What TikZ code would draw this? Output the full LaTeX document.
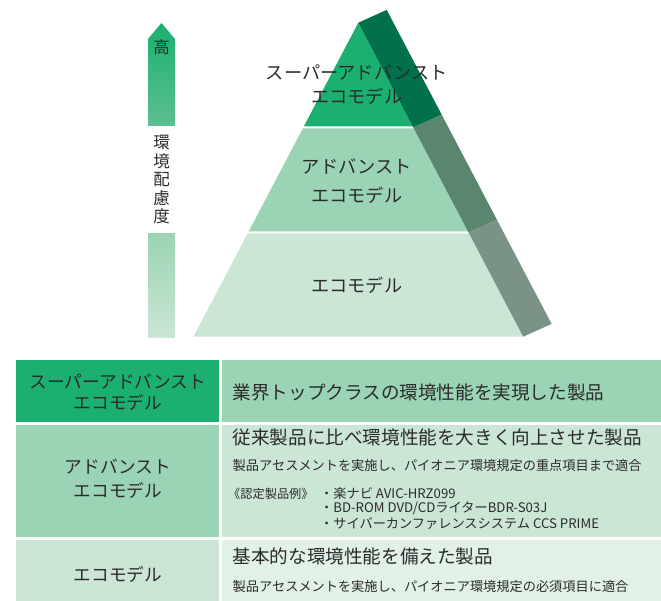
\documentclass[tikz,border=0pt]{standalone}
\usepackage{fontspec}
\setmainfont{Noto Sans CJK JP}
\definecolor{gDark}{HTML}{1BB06F}
\definecolor{gMid}{HTML}{9BD4B4}
\definecolor{gLight}{HTML}{CBE6D5}
\definecolor{gPale}{HTML}{E1F1E7}
\definecolor{bTop}{HTML}{00714A}
\definecolor{bMid}{HTML}{5A866F}
\definecolor{bBot}{HTML}{7A9386}
\definecolor{txt}{HTML}{2B2B2B}
\definecolor{arrBot}{HTML}{5CBF91}
\begin{document}
\begin{tikzpicture}[x=1pt,y=-1pt,
  base/.style={text=txt, inner sep=0pt},
  pyr/.style={base, font=\fontsize{18.2}{20}\selectfont},
  vch/.style={base, font=\fontsize{16.5}{18}\selectfont},
  lcol/.style={base, font=\fontsize{17.7}{20}\selectfont},
  big/.style={base, anchor=west, font=\fontsize{18.6}{20}\selectfont},
  small/.style={base, anchor=west, font=\fontsize{13.2}{15}\selectfont},
]
\useasboundingbox (0,0) rectangle (661,601);
% pyramid tiers
\fill[gDark] (358.3,22.7) -- (412.8,126.5) -- (303.8,126.5) -- cycle;
\fill[gMid] (302.8,128.5) -- (413.8,128.5) -- (467.9,231.5) -- (248.7,231.5) -- cycle;
\fill[gLight] (247.6,233.5) -- (469.0,233.5) -- (523.2,336.7) -- (193.4,336.7) -- cycle;
% side band
\fill[bTop] (358.3,22.7) -- (386.7,9.9) -- (441.7,114.7) -- (413.3,127.5) -- cycle;
\fill[bMid] (413.3,127.5) -- (441.7,114.7) -- (496.9,219.7) -- (468.5,232.5) -- cycle;
\fill[bBot] (468.5,232.5) -- (496.9,219.7) -- (551.6,323.9) -- (523.2,336.7) -- cycle;
% pyramid labels
\node[pyr] (p1a) at (356.7,72.7) {スーパーアドバンスト};
\node[pyr] (p1b) at (356.7,96.7) {エコモデル};
\node[pyr] (p2a) at (356.7,166.7) {アドバンスト};
\node[pyr] (p2b) at (356.7,195.7) {エコモデル};
\node[pyr] (p3) at (356.7,285) {エコモデル};
% level arrow
\shade[top color=gDark, bottom color=arrBot] (148,126) -- (148,39) -- (161.5,23) -- (175,39) -- (175,126) -- cycle;
\shade[top color=gMid, bottom color=gLight] (148,234) rectangle (175,337.5);
\node[vch] (hi) at (161.5,47.3) {高};
\node[vch] (v1) at (161.5,142.7) {環};
\node[vch] (v2) at (161.5,161.2) {境};
\node[vch] (v3) at (161.5,179.7) {配};
\node[vch] (v4) at (161.5,198.2) {慮};
\node[vch] (v5) at (161.5,216.7) {度};
% table cells
\fill[gDark] (16,360) rectangle (219,421.5);
\fill[gMid] (221.5,360) rectangle (661,421.5);
\fill[gMid] (16,424.5) rectangle (219,537);
\fill[gLight] (221.5,424.5) rectangle (661,537);
\fill[gLight] (16,539.5) rectangle (219,601);
\fill[gPale] (221.5,539.5) rectangle (661,601);
% table left column
\node[lcol] (t1a) at (118,381.7) {スーパーアドバンスト};
\node[lcol] (t1b) at (118,402.7) {エコモデル};
\node[lcol] (t2a) at (118,466.7) {アドバンスト};
\node[lcol] (t2b) at (118,490.7) {エコモデル};
\node[lcol] (t3) at (118,574) {エコモデル};
% table right column
\node[big] (r1) at (232.5,392.7) {業界トップクラスの環境性能を実現した製品};
\node[big] (r2) at (232.5,437.3) {従来製品に比べ環境性能を大きく向上させた製品};
\node[small] (r2s) at (232.5,466) {製品アセスメントを実施し、パイオニア環境規定の重点項目まで適合};
\node[small, font=\fontsize{12.2}{14}\selectfont] (ex) at (228,493.5) {《認定製品例》};
\node[small] (ex1) at (320,493.5) {・楽ナビ AVIC-HRZ099};
\node[small] (ex2) at (320,508.5) {・BD-ROM DVD/CDライターBDR-S03J};
\node[small] (ex3) at (320,523.5) {・サイバーカンファレンスシステム CCS PRIME};
\node[big] (r3) at (232.5,556) {基本的な環境性能を備えた製品};
\node[small] (r3s) at (232.5,586.7) {製品アセスメントを実施し、パイオニア環境規定の必須項目に適合};
\end{tikzpicture}
\end{document}
